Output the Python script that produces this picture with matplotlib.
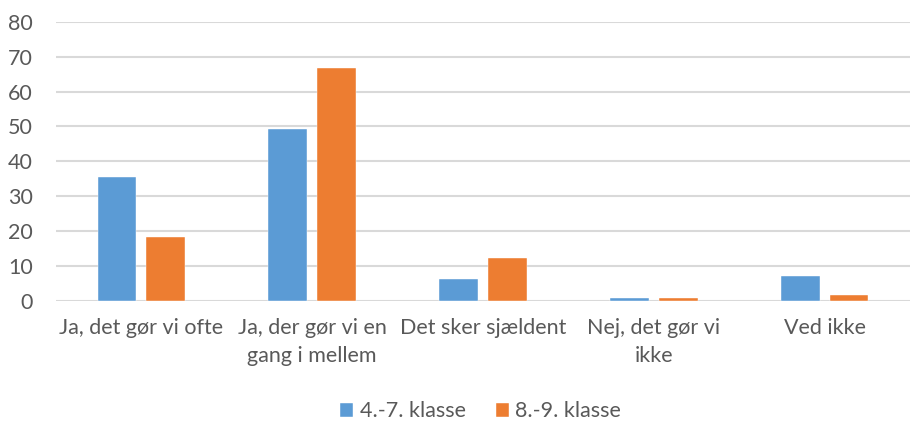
import matplotlib
matplotlib.use('Agg')
import matplotlib.pyplot as plt
import numpy as np

categories = ["Ja, det gør vi ofte", "Ja, der gør vi en\ngang i mellem", "Det sker sjældent",
              "Nej, det gør vi\nikke", "Ved ikke"]
series_names = ["4.-7. klasse", "8.-9. klasse"]
values_47 = [35.6, 49.4, 6.3, 1.0, 7.2]
values_89 = [18.4, 66.7, 12.2, 0.8, 1.7]
yticks = [0, 10, 20, 30, 40, 50, 60, 70, 80]

BLUE = '#5B9BD5'
ORANGE = '#ED7D31'
TEXT = '#595959'
GRID = '#D9D9D9'
FS = 15.5

plt.rcParams['font.family'] = ['Lato', 'DejaVu Sans']

fig = plt.figure(figsize=(9.15, 4.26), dpi=100)
ax = fig.add_axes([56 / 915, 1 - 301 / 426, 854 / 915, 279.3 / 426])

x = np.arange(len(categories))
w = 0.227
off = 0.1425
ax.bar(x - off, values_47, w, color=BLUE, edgecolor='white', linewidth=0.3, label=series_names[0], zorder=3)
ax.bar(x + off, values_89, w, color=ORANGE, edgecolor='white', linewidth=0.3, label=series_names[1], zorder=3)

ax.set_xlim(-0.5, len(categories) - 0.5)
ax.set_ylim(0, 80)
ax.set_yticks(yticks)
ax.set_xticks(x)
ax.set_xticklabels(categories, fontsize=FS, color=TEXT, linespacing=1.55)
ax.tick_params(axis='y', labelsize=FS, labelcolor=TEXT, length=0, pad=16.5)
ax.tick_params(axis='x', length=0, pad=12)
ax.grid(axis='y', color=GRID, linewidth=1.5, zorder=0)
for s in ax.spines.values():
    s.set_visible(False)

ax.legend(loc='center', bbox_to_anchor=(0.5 - 56 / 854 / 2 + 0.03, -0.395), ncol=2, frameon=False,
          fontsize=FS, labelcolor=TEXT, handlelength=0.6, handleheight=0.6,
          handletextpad=0.3, columnspacing=1.4)

plt.savefig('out.png', dpi=100)
